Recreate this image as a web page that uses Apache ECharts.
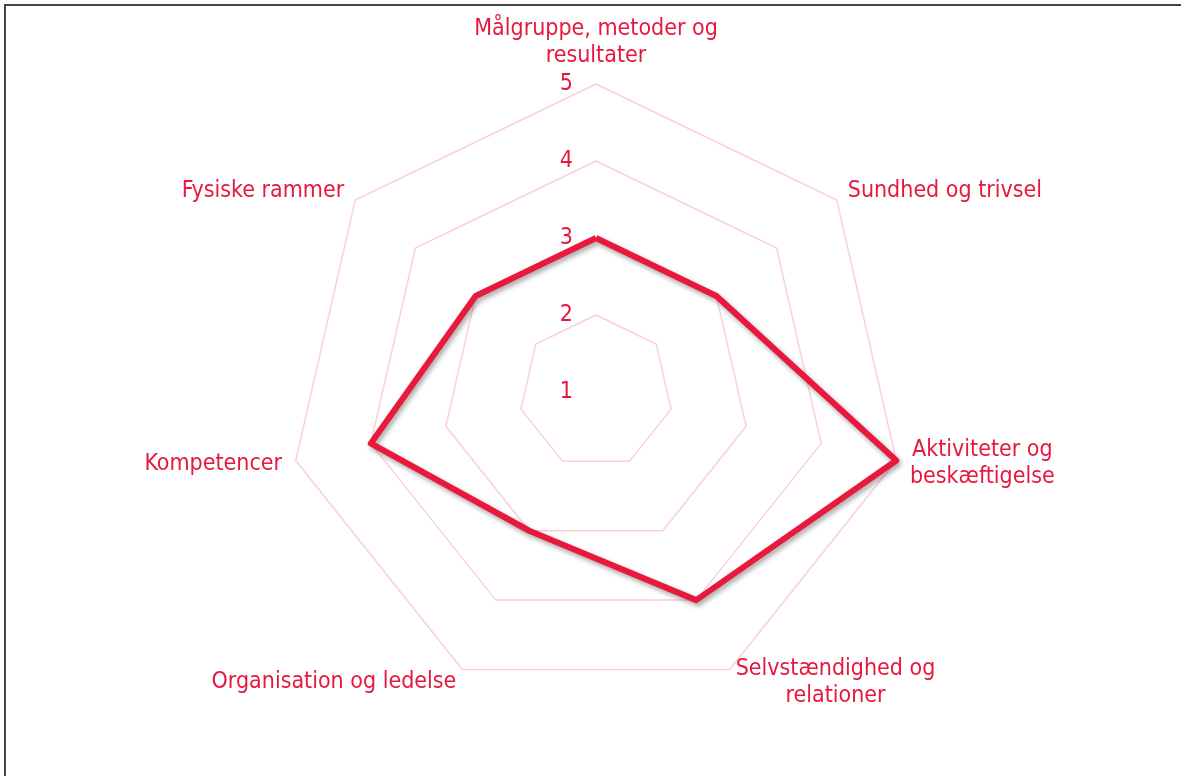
<!DOCTYPE html>
<html>
<head>
<meta charset="utf-8">
<script src="https://cdn.jsdelivr.net/npm/echarts@6/dist/echarts.min.js"></script>
<style>
  html, body { margin: 0; padding: 0; background: #fff; }
  .frame {
    position: absolute; left: 4px; top: 4px; right: -10px; bottom: -10px;
    border-top: 2px solid #444; border-left: 2px solid #444;
  }
  #chart { position: absolute; left: 0; top: 0; width: 1181px; height: 776px; }
</style>
</head>
<body>
<div class="frame"></div>
<div id="chart"></div>
<script>
// akser, læst med uret fra toppen
const categories = [
  'Målgruppe, metoder og\nresultater',
  'Sundhed og trivsel',
  'Aktiviteter og\nbeskæftigelse',
  'Selvstændighed og\nrelationer',
  'Organisation og ledelse',
  'Kompetencer',
  'Fysiske rammer'
]
const scores = [3, 3, 5, 4, 3, 4, 3]
const scaleMin = 1
const scaleMax = 5

const red = '#e6183f'
const font = '"DejaVu Sans Condensed", "DejaVu Sans"'
const fontSize = 23

// echarts tegner mod uret, så rækkefølgen vendes (toppen bliver først)
const ccw = (arr) => [arr[0]].concat(arr.slice(1).reverse())

const option = {
  animation: false,
  radar: [
    {
      center: [596, 392],
      radius: 308,
      startAngle: 90,
      shape: 'polygon',
      splitNumber: 4,
      indicator: ccw(categories).map(name => ({ name, min: scaleMin, max: scaleMax })),
      axisName: {
        color: red,
        fontFamily: font,
        fontSize: fontSize,
        lineHeight: 27,
        formatter: (name) => name.split('\n').map(s => '{c|' + s + '}').join('\n'),
        rich: {
          c: { align: 'center', color: red, fontFamily: font, fontSize: fontSize, lineHeight: 27 }
        }
      },
      nameGap: 14,
      axisLine: { show: false },
      axisTick: { show: false },
      axisLabel: { show: false },
      splitArea: { show: false },
      splitLine: { lineStyle: { color: '#fad0d8', width: 1.5 } }
    },
    {
      // kun til skalaen 1-5 på den øverste akse
      center: [596, 392],
      radius: 308,
      startAngle: 90,
      shape: 'polygon',
      splitNumber: 4,
      indicator: [{ name: '', min: scaleMin, max: scaleMax }],
      axisName: { show: false },
      axisLine: { show: false },
      axisTick: { show: false },
      splitArea: { show: false },
      splitLine: { show: false },
      axisLabel: {
        show: true,
        color: red,
        fontFamily: font,
        fontSize: fontSize,
        margin: 23
      }
    }
  ],
  series: [
    {
      type: 'radar',
      radarIndex: 0,
      symbol: 'none',
      lineStyle: {
        color: '#e8193c',
        width: 6,
        shadowColor: 'rgba(0,0,0,0.35)',
        shadowBlur: 5,
        shadowOffsetX: 2,
        shadowOffsetY: 3
      },
      data: [{ value: ccw(scores) }]
    }
  ]
}

echarts.init(document.getElementById('chart')).setOption(option)
</script>
</body>
</html>
